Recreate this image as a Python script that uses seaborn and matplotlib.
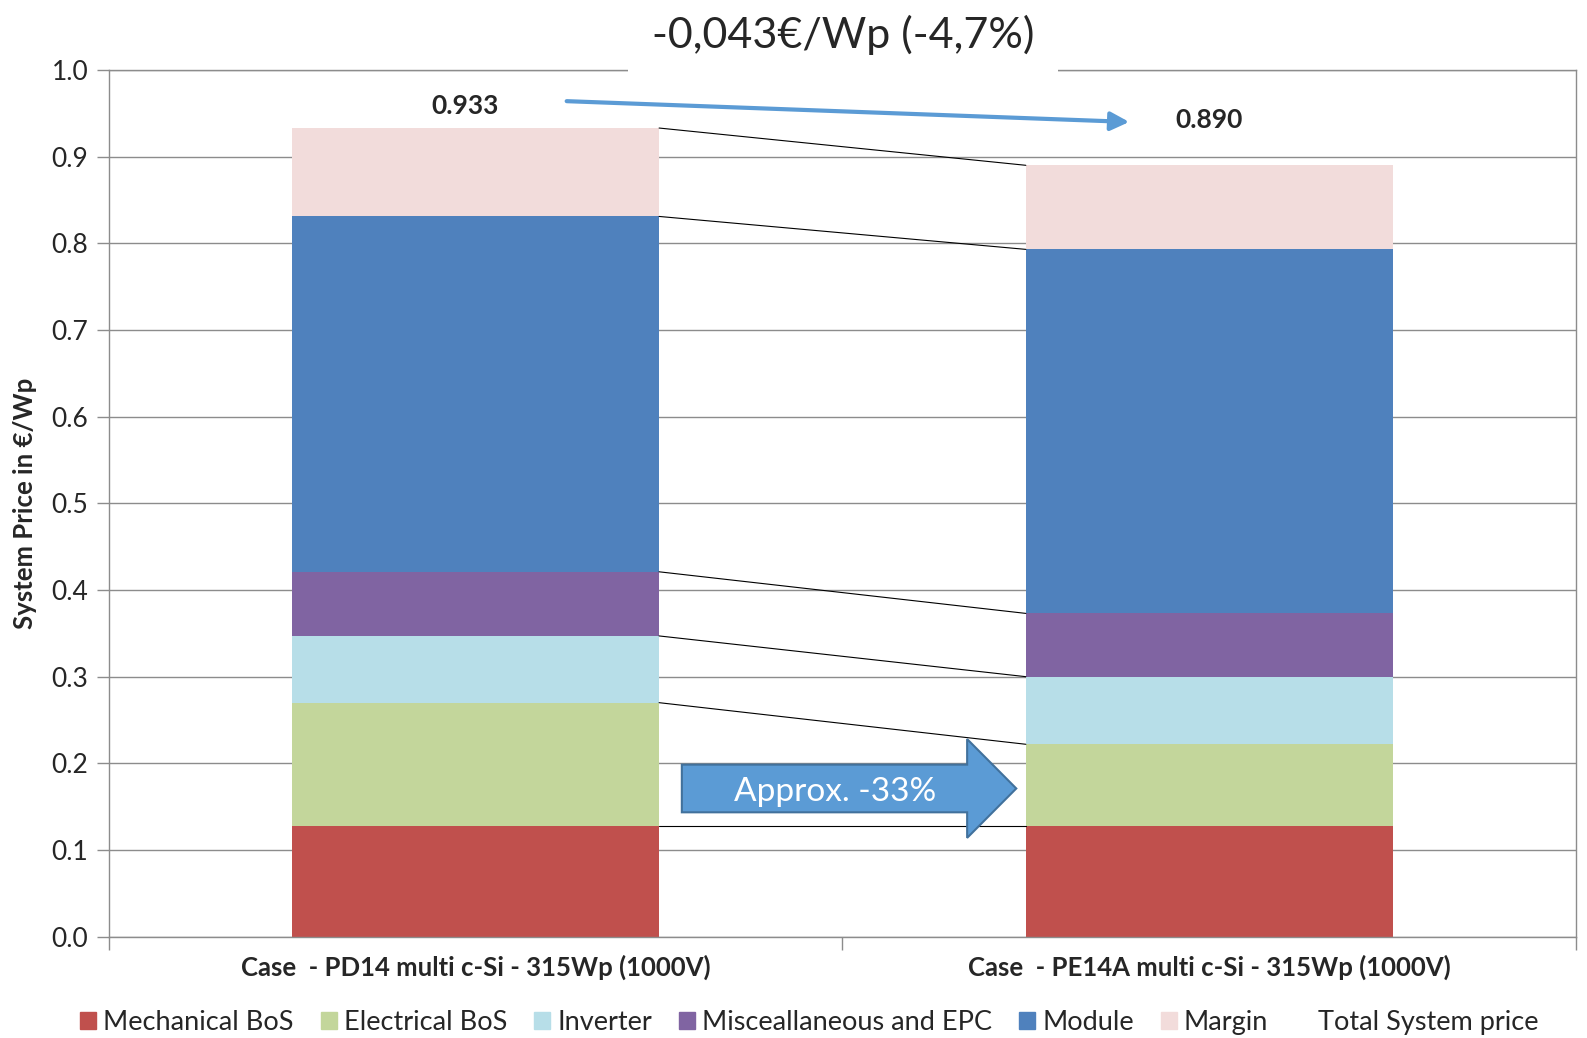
import matplotlib
matplotlib.use('Agg')
import matplotlib.pyplot as plt
import matplotlib.patches as mpatches
from matplotlib.lines import Line2D
import numpy as np
import seaborn as sns

# data (EUR/Wp)
cases = ['Case  - PD14 multi c-Si - 315Wp (1000V)', 'Case  - PE14A multi c-Si - 315Wp (1000V)']
components = ['Mechanical BoS', 'Electrical BoS', 'Inverter', 'Misceallaneous and EPC', 'Module', 'Margin']
mechanical_bos = [0.128, 0.128]
electrical_bos = [0.142, 0.094]
inverter = [0.077, 0.078]
misc_epc = [0.074, 0.073]
module = [0.410, 0.420]
margin = [0.102, 0.097]
totals = [0.933, 0.890]
colors = ['#C0504D', '#C3D69B', '#B7DEE8', '#8064A2', '#4F81BD', '#F2DCDB']

sns.set_style('white')
plt.rcParams['font.family'] = ['Lato', 'DejaVu Sans']

fig = plt.figure(figsize=(15.87, 10.38), dpi=100)
ax = fig.add_axes([0.0687, 0.0976, 0.9243, 0.835])

layers = np.array([mechanical_bos, electrical_bos, inverter, misc_epc, module, margin])
cum = np.cumsum(layers, axis=0)

# stacked bars: draw cumulative heights from top layer down
for i in range(len(components) - 1, -1, -1):
    sns.barplot(x=cases, y=cum[i], color=colors[i], width=0.5, saturation=1,
                linewidth=0, ax=ax, zorder=2)

# connector lines between bar tops
for i in range(len(components)):
    ax.plot([0.25, 0.75], [cum[i][0], cum[i][1]], color='black', lw=0.8, zorder=3)

# total labels
label_offsets = [0.025, 0.052]
for j, t in enumerate(totals):
    ax.text(j - 0.015 * (j == 0), t + label_offsets[j], f'{t:.3f}', ha='center', va='center',
            fontsize=19, fontweight='bold')

# blue arrow between totals
ax.annotate('', xy=(0.891, 0.940), xytext=(0.124, 0.964),
            arrowprops=dict(arrowstyle='-|>', color='#5B9BD5', lw=3, mutation_scale=28,
                            shrinkA=0, shrinkB=0), zorder=4)

# block arrow
block = mpatches.FancyArrow(0.281, 0.171, 0.456, 0, width=0.055, head_width=0.114,
                            head_length=0.067, length_includes_head=True,
                            facecolor='#5B9BD5', edgecolor='#41719C', lw=1.5, zorder=5)
ax.add_patch(block)
ax.text(0.49, 0.167, 'Approx. -33%', color='white', fontsize=24, ha='center', va='center', zorder=6)

ax.set_ylim(0, 1.0)
ax.set_xlim(-0.5, 1.5)
ax.set_yticks(np.arange(0, 1.01, 0.1))
ax.set_yticklabels([f'{v:.1f}' for v in np.arange(0, 1.01, 0.1)], fontsize=19)
ax.yaxis.grid(True, color='#8C8C8C', lw=1)
ax.set_axisbelow(True)
ax.tick_params(axis='y', length=9, width=1, color='#8C8C8C', direction='out', left=True, pad=6)
ax.tick_params(axis='x', length=0, pad=13)
ax.set_xticks([-0.5, 0.5, 1.5], minor=True)
ax.tick_params(axis='x', which='minor', length=9, width=1, color='#8C8C8C', bottom=True)
for lbl in ax.get_xticklabels():
    lbl.set_fontsize(18.5)
    lbl.set_fontweight('bold')
for s in ax.spines.values():
    s.set_color('#8C8C8C')
    s.set_linewidth(1)
ax.set_xlabel('')
ax.set_ylabel('System Price in €/Wp', fontsize=18.5, fontweight='bold', labelpad=10)

# title with white box breaking the top spine
fig.text(0.531, 0.966, '-0,043€/Wp (-4,7%)', fontsize=31, ha='center', va='center',
         bbox=dict(facecolor='white', edgecolor='none', boxstyle='square,pad=0.55'))

handles = [mpatches.Patch(color=c) for c in colors] + [Line2D([], [], color='none')]
fig.legend(handles, components + ['Total System price'], loc='center', bbox_to_anchor=(0.51, 0.015),
           ncol=7, frameon=False, fontsize=19.5, handlelength=0.6, handleheight=0.6,
           handletextpad=0.25, columnspacing=1.0, borderaxespad=0)

fig.savefig('out.png', dpi=100)
